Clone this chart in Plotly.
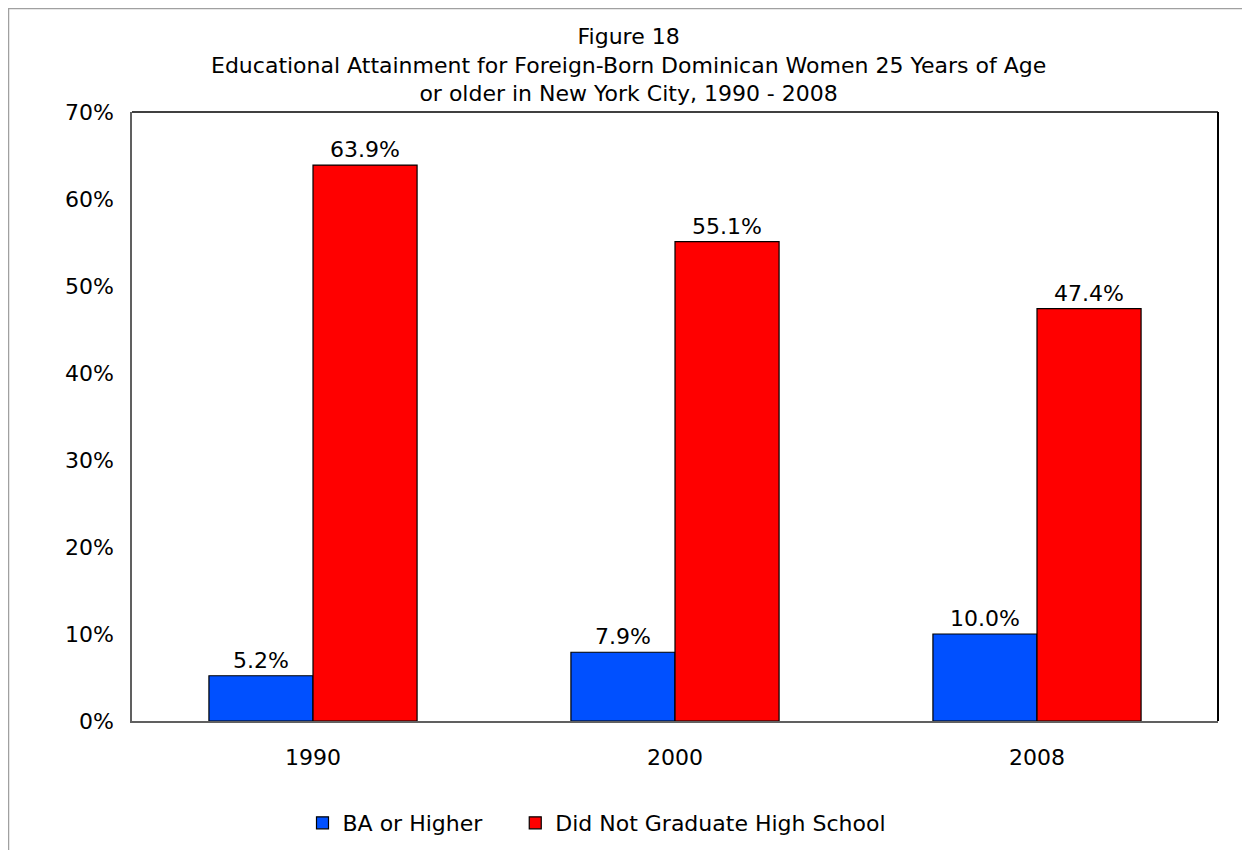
import plotly.graph_objects as go

years = ['1990', '2000', '2008']
ba_or_higher = [5.2, 7.9, 10.0]
no_high_school = [63.9, 55.1, 47.4]
series_names = ['BA or Higher', 'Did Not Graduate High School']
title_lines = ['Figure 18',
               'Educational Attainment for Foreign-Born Dominican Women 25 Years of Age',
               'or older in New York City, 1990 - 2008']

# page has an 8px body margin, so the figure is laid out in its own coords
W, H = 1242, 842
L, R, T, B = 124, 32, 104, 129
font = dict(family='DejaVu Sans, Verdana, sans-serif', size=22, color='#000000')

fig = go.Figure()
fig.add_trace(go.Bar(x=years, y=[v / 100 for v in ba_or_higher],
                     name=series_names[0] + '\u00a0' * 4,
                     marker=dict(color='#0050FF', line=dict(color='#000000', width=1.2)),
                     text=['%.1f%%' % v for v in ba_or_higher], textposition='outside',
                     textfont=font, cliponaxis=False))
fig.add_trace(go.Bar(x=years, y=[v / 100 for v in no_high_school], name=series_names[1],
                     marker=dict(color='#FF0000', line=dict(color='#000000', width=1.2)),
                     text=['%.1f%%' % v for v in no_high_school], textposition='outside',
                     textfont=font, cliponaxis=False))

pw = W - L - R
ph = H - T - B
def px_x(p):
    return (p - L) / pw
def px_y(p):
    return (H - B - p) / ph

fig.update_layout(
    width=W, height=H,
    margin=dict(l=L, r=R, t=T, b=B, autoexpand=False),
    paper_bgcolor='white', plot_bgcolor='white',
    font=font,
    barmode='group', bargap=0.425, bargroupgap=0,
    showlegend=True,
    legend=dict(orientation='h', xref='container', yref='container',
                x=589 / W, xanchor='center', y=1 - 815 / H, yanchor='middle',
                font=font, traceorder='normal'),
    xaxis=dict(showline=True, linecolor='#606060', linewidth=1.5, ticks='', tickfont=font,
               showgrid=False, ticklabelstandoff=16),
    yaxis=dict(range=[0, 0.7], dtick=0.1, tickformat='.0%', showline=True, linecolor='#606060',
               linewidth=1.5, ticks='', showgrid=False, zeroline=False, tickfont=font,
               ticklabelstandoff=12),
)

fig.add_annotation(text='<br>'.join(title_lines), xref='paper', yref='paper',
                   x=px_x(620), y=px_y(14), xanchor='center', yanchor='top',
                   showarrow=False, font=font, align='center')

# plot frame top/right in black
fig.add_shape(type='line', xref='paper', yref='paper', x0=0, x1=1, y0=1, y1=1,
              line=dict(color='#000000', width=1.5))
fig.add_shape(type='line', xref='paper', yref='paper', x0=1, x1=1, y0=0, y1=1,
              line=dict(color='#000000', width=2))
# outer chart border
fig.add_shape(type='rect', xref='paper', yref='paper', x0=px_x(0.5), x1=px_x(1260),
              y0=px_y(860), y1=px_y(0.5), line=dict(color='#A0A0A0', width=1.5))

fig.write_html('out.html')
